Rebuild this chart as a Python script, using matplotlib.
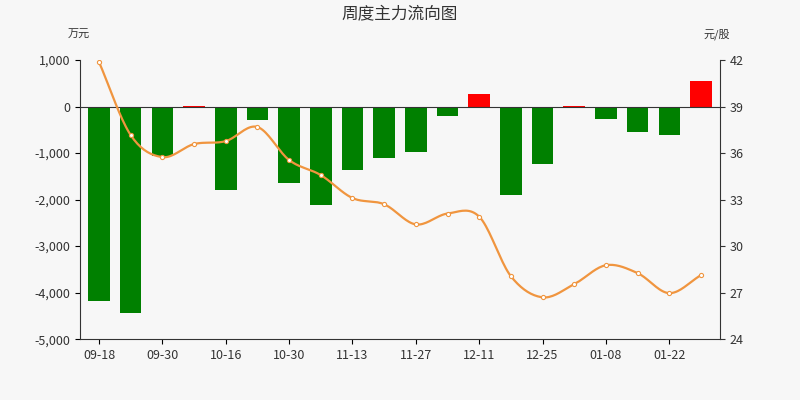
import matplotlib.pyplot as plt
import numpy as np

plt.rcParams["font.family"] = "Noto Sans CJK SC"

dates = ["09-18", "09-24", "09-30", "10-09", "10-16", "10-23", "10-30", "11-06",
         "11-13", "11-20", "11-27", "12-04", "12-11", "12-18", "12-25", "01-01",
         "01-08", "01-15", "01-22", "01-29"]
flow = [-4180, -4430, -1070, 20, -1800, -280, -1650, -2120, -1370, -1110,
        -980, -210, 260, -1910, -1240, 20, -260, -540, -620, 540]
price = [41.87, 37.16, 35.74, 36.58, 36.77, 37.68, 35.55, 34.58, 33.10, 32.70,
         31.40, 32.10, 31.90, 28.06, 26.70, 27.55, 28.77, 28.26, 26.97, 28.13]

fig = plt.figure(figsize=(8, 4), dpi=100, facecolor="#f7f7f7")
ax = fig.add_axes([0.1, 0.152, 0.8, 0.698], facecolor="#f7f7f7")
x = np.arange(len(flow))
colors = ["red" if v > 0 else "green" for v in flow]
ax.bar(x, flow, width=0.68, color=colors, zorder=2)
ax.axhline(0, color="#333333", lw=0.8, zorder=3)
ax.set_ylim(-5000, 1000)
ax.set_yticks(range(-5000, 1001, 1000))
ax.set_yticklabels([f"{v:,}" for v in range(-5000, 1001, 1000)], fontsize=9, color="#333333")
ax.set_xlim(-0.6, len(flow) - 0.4)
ax.set_xticks(x[::2])
ax.set_xticklabels(dates[::2], fontsize=9, color="#333333")
for s in ["top", "right"]:
    ax.spines[s].set_visible(False)
ax.spines["left"].set_color("#333333")
ax.spines["bottom"].set_color("#333333")

ax2 = ax.twinx()
ax2.set_ylim(24, 42)
ax2.set_yticks(range(24, 43, 3))
ax2.tick_params(labelsize=9, colors="#333333")
for s in ["top", "left", "bottom"]:
    ax2.spines[s].set_visible(False)
ax2.spines["right"].set_color("#333333")

# Catmull-Rom smoothing for drawing
p = np.array(price)
pts = np.concatenate([[2 * p[0] - p[1]], p, [2 * p[-1] - p[-2]]])
xs, ys = [], []
for i in range(len(p) - 1):
    t = np.linspace(0, 1, 20)
    p0, p1, p2, p3 = pts[i:i + 4]
    y = 0.5 * (2 * p1 + (-p0 + p2) * t + (2 * p0 - 5 * p1 + 4 * p2 - p3) * t**2
               + (-p0 + 3 * p1 - 3 * p2 + p3) * t**3)
    xs.extend(i + t)
    ys.extend(y)
ax2.plot(xs, ys, color="#f0953f", lw=1.6, zorder=4)
ax2.plot(x, price, "o", ms=3, mfc="white", mec="#f0953f", mew=0.8, zorder=5)

fig.text(0.5, 0.965, "周度主力流向图", ha="center", va="center", fontsize=12, color="#333333")
fig.text(0.085, 0.905, "万元", fontsize=8, color="#333333")
fig.text(0.88, 0.905, "元/股", fontsize=8, color="#333333")
fig.savefig("out.png", facecolor=fig.get_facecolor())
